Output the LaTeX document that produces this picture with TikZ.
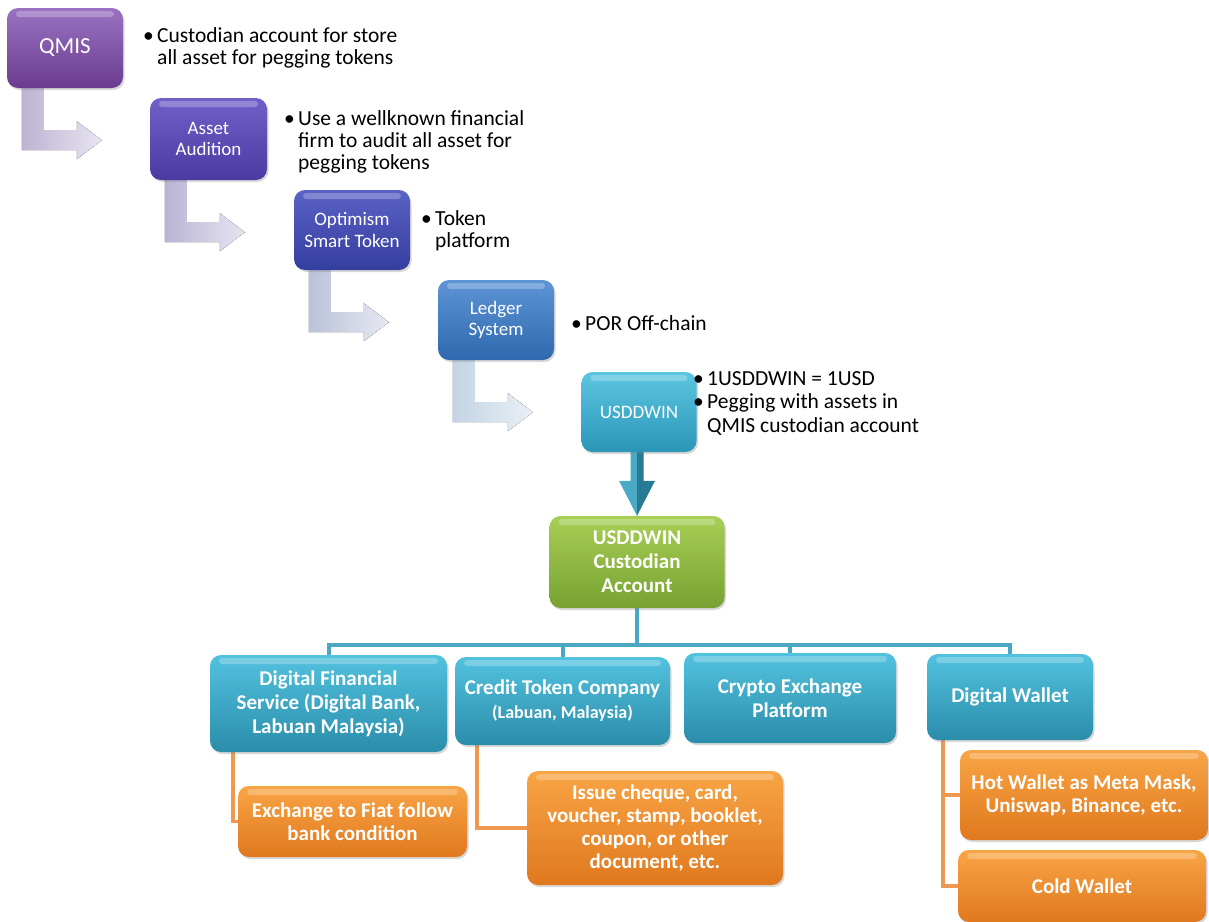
\documentclass[tikz,border=0pt]{standalone}
\usepackage{fontspec}
\setmainfont{Carlito}
\usetikzlibrary{shadows,calc}
\pgfdeclarelayer{bg}
\pgfsetlayers{bg,main}
\definecolor{arA}{HTML}{BDB3D3}
\definecolor{arB}{HTML}{B8B4D6}
\definecolor{arC}{HTML}{BAC1D9}
\definecolor{arD}{HTML}{C3D4E4}
\definecolor{busc}{HTML}{4AA8C4}
\definecolor{orl}{HTML}{F09850}
\definecolor{cyan1}{HTML}{52C2DE}
\definecolor{cyan2}{HTML}{2A8DAA}
\definecolor{orng1}{HTML}{F8A545}
\definecolor{orng2}{HTML}{E0781E}
\newcommand{\bentarrow}[2]{%
  \fill[left color=#2, right color=#2!35!white]
    ($#1$) -- ++(22,0) -- ++(0,42) -- ++(33,0) -- ++(0,-9) -- ++(25,19)
    -- ++(-25,19) -- ++(0,-9) -- ++(-55,0) -- cycle;}
\begin{document}
\begin{tikzpicture}[x=1pt,y=-1pt,
  box/.style={rounded corners=11pt, text=white, align=center, inner sep=2pt,
    drop shadow={opacity=0.3, shadow xshift=1.5pt, shadow yshift=-2pt},
    path picture={\fill[white,opacity=0.25,rounded corners=3pt]
      ($(path picture bounding box.north west)+(9,3)$) rectangle
      ($(path picture bounding box.north east)+(-9,9)$);}},
  small/.style={font=\fontsize{19}{21.5}\selectfont},
  big/.style={font=\bfseries\fontsize{21}{24}\selectfont},
  child/.style={box, big, top color=cyan1, bottom color=cyan2},
  leaf/.style={box, big, top color=orng1, bottom color=orng2},
  bullet/.style={anchor=base west, inner sep=0pt, font=\fontsize{21.5}{22}\selectfont},
  bus/.style={draw=busc, line width=4pt},
  oline/.style={draw=orl, line width=3.5pt}]
\useasboundingbox (0,0) rectangle (1209,921);

% step boxes
\node[box, top color={rgb,255:red,154;green,114;blue,194}, bottom color={rgb,255:red,106;green,60;blue,144},
  minimum width=116pt, minimum height=80pt, font=\fontsize{23}{26}\selectfont] (qmis) at (65,48) {QMIS};
\node[box, small, top color={rgb,255:red,112;green,96;blue,200}, bottom color={rgb,255:red,75;green,58;blue,162},
  minimum width=117pt, minimum height=82pt] (asset) at (208.5,139) {Asset\\Audition};
\node[box, small, top color={rgb,255:red,90;green,98;blue,198}, bottom color={rgb,255:red,52;green,62;blue,158},
  minimum width=116pt, minimum height=80pt] (opt) at (352,230) {Optimism\\Smart Token};
\node[box, small, top color={rgb,255:red,93;green,149;blue,214}, bottom color={rgb,255:red,47;green,104;blue,174},
  minimum width=116pt, minimum height=80pt] (ledger) at (496,320) {Ledger\\System};
\node[box, small, top color={rgb,255:red,92;green,198;blue,226}, bottom color={rgb,255:red,42;green,149;blue,182},
  minimum width=115pt, minimum height=80pt] (usd) at (639,412) {USDDWIN};
\node[box, big, top color={rgb,255:red,168;green,207;blue,85}, bottom color={rgb,255:red,119;green,162;blue,50},
  minimum width=175pt, minimum height=92pt] (cust) at (637,562) {USDDWIN\\Custodian\\Account};

% bullet texts
\node[bullet] (t1) at (143,42) {\parbox[t]{300pt}{\makebox[14pt][l]{•}Custodian account for store\\\hspace*{14pt}all asset for pegging tokens}};
\node[bullet] (t2) at (284,125) {\parbox[t]{300pt}{\makebox[14pt][l]{•}Use a wellknown financial\\\hspace*{14pt}firm to audit all asset for\\\hspace*{14pt}pegging tokens}};
\node[bullet] (t3) at (421,225) {\parbox[t]{200pt}{\makebox[14pt][l]{•}Token\\\hspace*{14pt}platform}};
\node[bullet] (t4) at (571,330) {\parbox[t]{200pt}{\makebox[14pt][l]{•}POR Off-chain}};
\node[bullet, font=\fontsize{21.5}{23.5}\selectfont] (t5) at (693,385) {\parbox[t]{300pt}{\makebox[14pt][l]{•}1USDDWIN = 1USD\\\makebox[14pt][l]{•}Pegging with assets in\\\hspace*{14pt}QMIS custodian account}};

% second level
\node[child, minimum width=237pt, minimum height=97pt] (dfs) at (328.5,703.5) {Digital Financial\\Service (Digital Bank,\\Labuan Malaysia)};
\node[child, minimum width=215pt, minimum height=88pt] (ctc) at (562.5,701) {Credit Token Company\\{\fontsize{18}{24}\selectfont(Labuan, Malaysia)}};
\node[child, minimum width=212pt, minimum height=90pt] (cex) at (790,698) {Crypto Exchange\\Platform};
\node[child, minimum width=166pt, minimum height=86pt] (dw) at (1010,697) {Digital Wallet};

% leaves
\node[leaf, minimum width=229pt, minimum height=71pt, font=\bfseries\fontsize{21}{23}\selectfont] (fiat) at (352.5,821.5) {Exchange to Fiat follow\\bank condition};
\node[leaf, minimum width=256pt, minimum height=114pt, font=\bfseries\fontsize{21}{23}\selectfont] (issue) at (655,828) {Issue cheque, card,\\voucher, stamp, booklet,\\coupon, or other\\document, etc.};
\node[leaf, minimum width=248pt, minimum height=90pt, font=\bfseries\fontsize{21}{23}\selectfont] (hot) at (1084,795) {Hot Wallet as Meta Mask,\\Uniswap, Binance, etc.};
\node[leaf, minimum width=248pt, minimum height=72pt] (cold) at (1082,886) {Cold Wallet};

\begin{pgfonlayer}{bg}
\fill[white] (0,0) rectangle (1209,921);
% bent arrows
\bentarrow{(qmis.south west)+(15,0)}{arA}
\bentarrow{(asset.south west)+(15,0)}{arB}
\bentarrow{(opt.south west)+(15,0)}{arC}
\bentarrow{(ledger.south west)+(15,0)}{arD}
% down arrow
\coordinate (dtop) at (cust.north |- usd.south);
\fill[color={rgb,255:red,74;green,170;blue,198}] ($(dtop)+(-6.5,0)$) -- (dtop) -- (cust.north) -- ($(cust.north)+(-18,-35)$) -- ($(cust.north)+(-6.5,-35)$) -- cycle;
\fill[color={rgb,255:red,40;green,122;blue,148}] ($(dtop)+(6.5,0)$) -- (dtop) -- (cust.north) -- ($(cust.north)+(18,-35)$) -- ($(cust.north)+(6.5,-35)$) -- cycle;
% tree bus
\coordinate (j) at ($(cust.south)+(0,37)$);
\draw[bus] (cust.south) -- (j);
\draw[bus] (dfs.north) -- (dfs.north |- j) -- (dw.north |- j) -- (dw.north);
\draw[bus] (ctc.north) -- (ctc.north |- j);
\draw[bus] (cex.north) -- (cex.north |- j);
% orange connectors
\draw[oline] ($(dfs.south west)+(23,0)$) |- (fiat.west);
\draw[oline] ($(ctc.south west)+(22,0)$) |- (issue.west);
\draw[oline] ($(dw.south west)+(16,0)$) |- (hot.west);
\draw[oline] ($(dw.south west)+(16,0)$) |- (cold.west);
\end{pgfonlayer}
\end{tikzpicture}
\end{document}
